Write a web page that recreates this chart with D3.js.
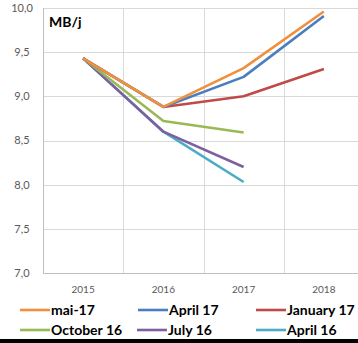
<!DOCTYPE html>
<html>
<head>
<meta charset="utf-8">
<script src="https://cdn.jsdelivr.net/npm/d3@7"></script>
<style>
html,body{margin:0;padding:0;background:#fff;}
svg{display:block;}
</style>
</head>
<body>
<svg id="chart" width="358" height="343"></svg>
<script>
const years = ["2015", "2016", "2017", "2018"];
const yTicks = [7.0, 7.5, 8.0, 8.5, 9.0, 9.5, 10.0];
const unitLabel = "MB/j";

const seriesNames = ["mai-17", "April 17", "January 17", "October 16", "July 16", "April 16"];
const seriesColors = ["#F0903E", "#4A7EBE", "#BE4B48", "#98B954", "#7D60A0", "#4AACC5"];
const mai17 = [9.43, 8.88, 9.32, 9.96];
const april17 = [9.43, 8.88, 9.22, 9.91];
const january17 = [9.43, 8.88, 9.00, 9.31];
const october16 = [9.43, 8.72, 8.59, null];
const july16 = [9.43, 8.60, 8.20, null];
const april16 = [9.43, 8.60, 8.03, null];
const seriesValues = [mai17, april17, january17, october16, july16, april16];

(function () {
const svg = d3.select("#chart");
const pLeft = 43, pRight = 364, pTop = 8, pBottom = 273;

const x = d3.scaleBand().domain(years).range([pLeft, pRight]);
const y = d3.scaleLinear().domain([7, 10]).range([pBottom, pTop]);

const font = "Lato, 'Open Sans', sans-serif";

// horizontal gridlines
svg.append("g").selectAll("line").data(yTicks.slice(1)).join("line")
  .attr("x1", pLeft).attr("x2", 358)
  .attr("y1", d => Math.round(y(d)) + 0.5).attr("y2", d => Math.round(y(d)) + 0.5)
  .attr("stroke", "#d9d9d9").attr("stroke-width", 1);

// vertical gridlines at category boundaries
svg.append("g").selectAll("line").data(years.slice(1)).join("line")
  .attr("x1", d => Math.round(x(d)) + 0.5).attr("x2", d => Math.round(x(d)) + 0.5)
  .attr("y1", pTop).attr("y2", pBottom)
  .attr("stroke", "#d9d9d9").attr("stroke-width", 1);

// axes lines
svg.append("line").attr("x1", pLeft + 0.5).attr("x2", pLeft + 0.5).attr("y1", pTop).attr("y2", pBottom)
  .attr("stroke", "#bfbfbf");
svg.append("line").attr("x1", pLeft).attr("x2", 358).attr("y1", pBottom + 0.5).attr("y2", pBottom + 0.5)
  .attr("stroke", "#bfbfbf");

// y tick labels
const fmt = d => d3.format(".1f")(d).replace(".", ",");
svg.append("g").selectAll("text").data(yTicks).join("text")
  .attr("x", 22).attr("y", d => y(d)).attr("dy", "0.35em")
  .attr("text-anchor", "middle")
  .attr("font-family", font).attr("font-size", 11).attr("fill", "#595959")
  .text(fmt);

// x tick labels
svg.append("g").selectAll("text").data(years).join("text")
  .attr("x", d => x(d) + x.bandwidth() / 2).attr("y", 289).attr("dy", "0.35em")
  .attr("text-anchor", "middle")
  .attr("font-family", font).attr("font-size", 10).attr("fill", "#595959")
  .text(d => d);

// unit label
svg.append("text").attr("x", 49).attr("y", 27)
  .attr("font-family", font).attr("font-size", 14).attr("font-weight", "bold").attr("fill", "#000")
  .text(unitLabel);

// lines
const line = d3.line()
  .x(d => x(d.year) + x.bandwidth() / 2)
  .y(d => y(d.v));

const order = [5, 4, 3, 2, 1, 0];
order.forEach(i => {
  const pts = years.map((yr, j) => ({ year: yr, v: seriesValues[i][j] })).filter(d => d.v != null);
  svg.append("path").datum(pts)
    .attr("d", line)
    .attr("fill", "none")
    .attr("stroke", seriesColors[i])
    .attr("stroke-width", 2.6)
    .attr("stroke-linejoin", "round");
});

// legend
const legX = [[20, 138, 256], [20, 137, 256]];
const legY = [310, 330];
seriesNames.forEach((name, i) => {
  const r = Math.floor(i / 3), c = i % 3;
  const lx = legX[r][c], ly = legY[r];
  svg.append("line").attr("x1", lx).attr("x2", lx + 30).attr("y1", ly).attr("y2", ly)
    .attr("stroke", seriesColors[i]).attr("stroke-width", 2.6);
  svg.append("text").attr("x", lx + 31).attr("y", ly).attr("dy", "0.36em")
    .attr("font-family", font).attr("font-size", 14).attr("font-weight", "bold").attr("fill", "#000")
    .text(name);
});

// bottom black bar
svg.append("rect").attr("x", 0).attr("y", 339).attr("width", 358).attr("height", 4).attr("fill", "#000");
})();
</script>
</body>
</html>
